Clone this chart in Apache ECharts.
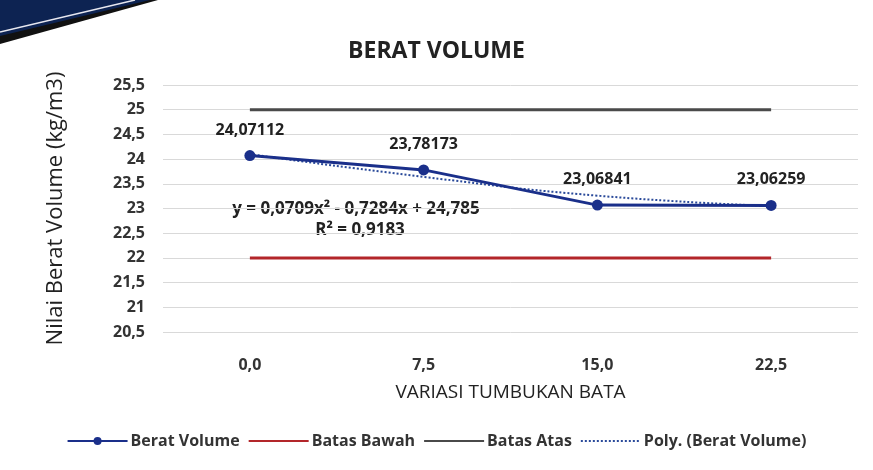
<!DOCTYPE html>
<html>
<head>
<meta charset="utf-8">
<script src="https://cdn.jsdelivr.net/npm/echarts@6/dist/echarts.min.js"></script>
<style>
  html, body { margin: 0; padding: 0; background: #fff; }
  #chart { width: 873px; height: 470px; }
</style>
</head>
<body>
<div id="chart"></div>
<script>
// data
const categories = ['0,0', '7,5', '15,0', '22,5']
const beratVolume = [24.07112, 23.78173, 23.06841, 23.06259]
const batasBawah = [22, 22, 22, 22]
const batasAtas = [25, 25, 25, 25]
// trend line at each category
const polyTrend = [24.1, 23.64, 23.26, 23.05]

const fontFam = "'Open Sans', sans-serif"
const fmt = v => String(v).replace('.', ',')

const chart = echarts.init(document.getElementById('chart'))

const option = {
  backgroundColor: '#fff',
  textStyle: { fontFamily: fontFam },
  title: {
    text: 'BERAT VOLUME',
    left: 'center',
    top: 35,
    textStyle: { fontSize: 23, fontWeight: 'bold', color: '#222', fontFamily: fontFam }
  },
  graphic: [
    {
      type: 'polygon',
      shape: { points: [[0, 0], [158, 0], [0, 44]] },
      style: { fill: '#111' }
    },
    {
      type: 'polygon',
      shape: { points: [[0, 0], [150, 0], [0, 36]] },
      style: { fill: '#0d2352' }
    },
    {
      type: 'line',
      shape: { x1: 0, y1: 32, x2: 135, y2: 0 },
      style: { stroke: '#e8e8f0', lineWidth: 1.5 }
    },
    {
      type: 'text',
      x: 356,
      y: 209,
      style: {
        text: 'y = 0,0709x² - 0,7284x + 24,785',
        align: 'center', verticalAlign: 'middle',
        fontSize: 17, fontWeight: 'bold', fill: '#222', fontFamily: fontFam
      }
    },
    {
      type: 'text',
      x: 360,
      y: 230,
      style: {
        text: 'R² = 0,9183',
        align: 'center', verticalAlign: 'middle',
        fontSize: 17, fontWeight: 'bold', fill: '#222', fontFamily: fontFam
      }
    }
  ],
  legend: {
    bottom: 16,
    left: 'center',
    itemWidth: 60,
    itemHeight: 10,
    itemGap: 8,
    textStyle: { fontSize: 16, fontWeight: 'bold', color: '#333', fontFamily: fontFam, padding: [0, 0, 0, -2] },
    data: [
      { name: 'Berat Volume' },
      { name: 'Batas Bawah', itemStyle: { opacity: 0 } },
      { name: 'Batas Atas', itemStyle: { opacity: 0 } },
      { name: 'Poly. (Berat Volume)', itemStyle: { opacity: 0 } }
    ]
  },
  grid: { left: 163, right: 15, top: 85, bottom: 138 },
  xAxis: {
    type: 'category',
    data: categories,
    name: 'VARIASI TUMBUKAN BATA',
    nameLocation: 'middle',
    nameGap: 51,
    nameTextStyle: { fontSize: 19, color: '#222', fontFamily: fontFam },
    axisLine: { show: false },
    axisTick: { show: false },
    axisLabel: { margin: 25, fontSize: 16, fontWeight: 'bold', color: '#333' }
  },
  yAxis: {
    type: 'value',
    min: 20.5,
    max: 25.5,
    interval: 0.5,
    name: 'Nilai Berat Volume (kg/m3)',
    nameLocation: 'middle',
    nameGap: 96,
    nameTextStyle: { fontSize: 22, color: '#222', fontFamily: fontFam },
    axisLine: { show: false },
    axisTick: { show: false },
    axisLabel: { margin: 18, fontSize: 16, fontWeight: 'bold', color: '#333', formatter: fmt },
    splitLine: { lineStyle: { color: '#d9d9d9', width: 1 } }
  },
  series: [
    {
      name: 'Batas Bawah',
      type: 'line',
      data: batasBawah,
      symbol: 'none',
      lineStyle: { color: '#b3262a', width: 3 },
      itemStyle: { color: '#b3262a' }
    },
    {
      name: 'Batas Atas',
      type: 'line',
      data: batasAtas,
      symbol: 'none',
      lineStyle: { color: '#4a4a4a', width: 3 },
      itemStyle: { color: '#4a4a4a' }
    },
    {
      name: 'Poly. (Berat Volume)',
      type: 'line',
      data: polyTrend,
      smooth: true,
      symbol: 'none',
      lineStyle: { color: '#2a4a9a', width: 2, type: 'dotted' },
      itemStyle: { color: '#2a4a9a' }
    },
    {
      name: 'Berat Volume',
      type: 'line',
      data: beratVolume,
      symbol: 'circle',
      symbolSize: 11,
      lineStyle: { color: '#1a2f8a', width: 3 },
      itemStyle: { color: '#1a2f8a' },
      label: {
        show: true,
        position: 'top',
        distance: 12,
        fontSize: 16,
        fontWeight: 'bold',
        color: '#222',
        fontFamily: fontFam,
        formatter: p => fmt(p.value)
      },
      z: 5
    }
  ]
}

chart.setOption(option)
</script>
</body>
</html>
